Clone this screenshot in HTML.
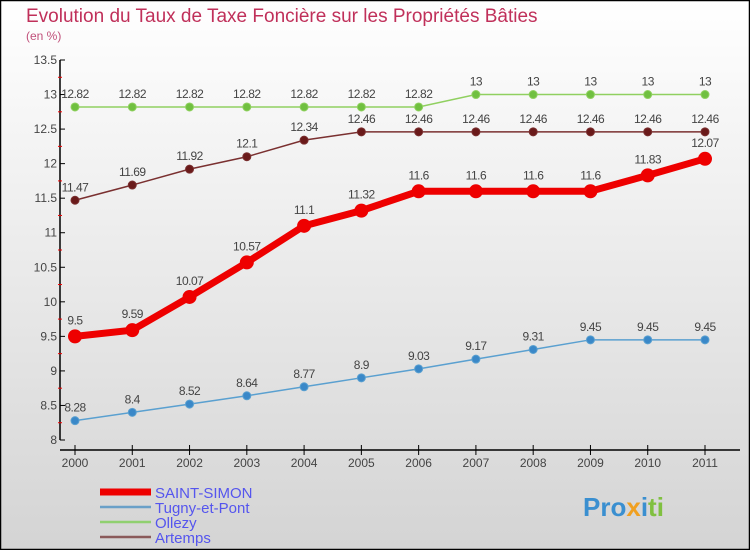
<!DOCTYPE html>
<html><head><meta charset="utf-8"><style>
html,body{margin:0;padding:0}
body{width:750px;height:550px;overflow:hidden;font-family:"Liberation Sans",sans-serif}
</style></head><body>
<svg width="750" height="550" xmlns="http://www.w3.org/2000/svg" id="svg">
<defs><linearGradient id="bg" x1="0" y1="0" x2="0" y2="1"><stop offset="0" stop-color="#ffffff"/><stop offset="1" stop-color="#d4d4d4"/></linearGradient></defs>
<rect x="0.5" y="0.5" width="749" height="549" fill="url(#bg)" stroke="#000" stroke-width="1.5"/>
<text x="26" y="22" font-size="19" fill="#c0305a">Evolution du Taux de Taxe Foncière sur les Propriétés Bâties</text>
<text x="26" y="40" font-size="12" fill="#c0507a">(en %)</text>
<g id="axes"></g><g id="series"></g>
<g id="legend"></g>
<text x="583" y="516" font-size="26" font-weight="bold" fill="#3a8fd0">Pro<tspan fill="#f0a020">x</tspan><tspan fill="#3a8fd0">i</tspan><tspan fill="#80c040">ti</tspan></text>
</svg>
<script>
const years=[2000,2001,2002,2003,2004,2005,2006,2007,2008,2009,2010,2011];
const yTicks=[8,8.5,9,9.5,10,10.5,11,11.5,12,12.5,13,13.5];
const yTickLabels=["8","8.5","9","9.5","10","10.5","11","11.5","12","12.5","13","13.5"];
const saintSimon=[9.5,9.59,10.07,10.57,11.1,11.32,11.6,11.6,11.6,11.6,11.83,12.07];
const tugny=[8.28,8.4,8.52,8.64,8.77,8.9,9.03,9.17,9.31,9.45,9.45,9.45];
const ollezy=[12.82,12.82,12.82,12.82,12.82,12.82,12.82,13,13,13,13,13];
const artemps=[11.47,11.69,11.92,12.1,12.34,12.46,12.46,12.46,12.46,12.46,12.46,12.46];
const NS="http://www.w3.org/2000/svg";
const X=i=>75+i*(630/11);
const Y=v=>440-(v-8)*(380/5.5);
function mk(t,a,p){const e=document.createElementNS(NS,t);for(const k in a)e.setAttribute(k,a[k]);p.appendChild(e);return e;}
const ax=document.getElementById('axes');
let e=mk('line',{x1:60,y1:60,x2:60,y2:440,stroke:'#000','stroke-width':1.5},ax);

e=mk('line',{x1:60,y1:450,x2:740,y2:450,stroke:'#000','stroke-width':1.5},ax);

yTicks.forEach((v,i)=>{mk('line',{x1:60,y1:Y(v),x2:65,y2:Y(v),stroke:'#000'},ax);
 if(i<yTicks.length-1)mk('line',{x1:58,y1:Y(v+0.25),x2:62,y2:Y(v+0.25),stroke:'#e00'},ax);
 const t=mk('text',{x:57,y:Y(v)+4,'text-anchor':'end','font-size':12,fill:'#444'},ax);t.textContent=yTickLabels[i];
 });
years.forEach((y,i)=>{mk('line',{x1:X(i),y1:445,x2:X(i),y2:455,stroke:'#000'},ax);
 const t=mk('text',{x:X(i),y:467,'text-anchor':'middle','font-size':12,fill:'#444'},ax);t.textContent=y;
 });
const sg=document.getElementById('series');
function series(data,color,dot,lw,r,name,below){
 const g=mk('g',{},sg);
 mk('polyline',{points:data.map((v,i)=>X(i)+','+Y(v)).join(' '),fill:'none',stroke:color,'stroke-width':lw},g);
 data.forEach((v,i)=>{const c=mk('circle',{cx:X(i),cy:Y(v),r:r,fill:dot,stroke:color==dot?'none':color},g);
  
  const t=mk('text',{x:X(i),y:Y(v)-(below?-0:10),'text-anchor':'middle','font-size':12,fill:'#444','letter-spacing':'-0.5'},g);
  t.setAttribute('y',Y(v)-(r>5?12:9));t.textContent=v;
  });
}
series(ollezy,'#90d060','#70c040',1.5,4,'ollezy');
series(artemps,'#7a3030','#6a1a1a',1.5,4,'artemps');
series(tugny,'#5aa0d0','#3a88c8',1.5,4,'tugny-et-pont');
series(saintSimon,'#ee0000','#ee0000',7,7,'saint-simon');
const lg=document.getElementById('legend');
[['SAINT-SIMON','#ee0000',7],['Tugny-et-Pont','#6aa0c8',2.5],['Ollezy','#90d070',2.5],['Artemps','#8a5a5a',2.5]].forEach((d,i)=>{
 const y=492+i*15;
 const l=mk('line',{x1:100,y1:y,x2:151,y2:y,stroke:d[1],'stroke-width':d[2]},lg);
 
 const t=mk('text',{x:155,y:y+6,'font-size':15,fill:'#5555ee'},lg);t.textContent=d[0];
 
});
</script>
</body></html>
